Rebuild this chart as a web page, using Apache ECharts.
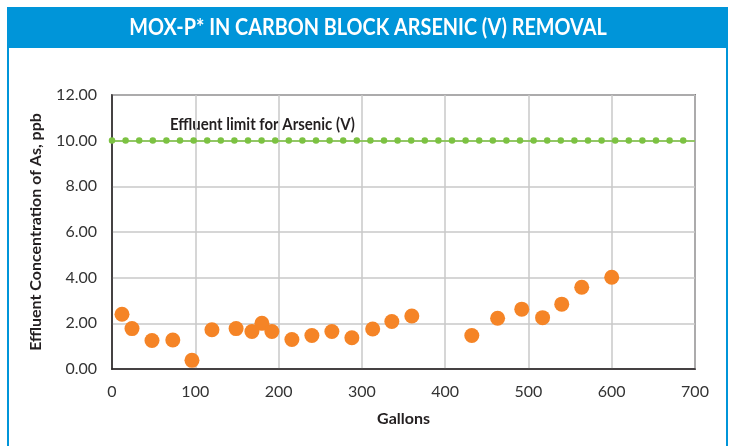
<!DOCTYPE html>
<html>
<head>
<meta charset="utf-8">
<script src="https://cdn.jsdelivr.net/npm/echarts@6/dist/echarts.min.js"></script>
<style>
  html, body { margin: 0; padding: 0; background: #fff; }
  #chart { width: 733px; height: 446px; }
</style>
</head>
<body>
<div id="chart"></div>
<script>
// gallons treated vs effluent arsenic (ppb)
var gallons = [12, 24, 48, 73, 96, 120, 149, 168, 180, 192, 216, 240, 264, 288, 313, 336, 360,
               432, 463, 492, 517, 540, 564, 600];
var arsenic = [2.40, 1.77, 1.25, 1.27, 0.38, 1.72, 1.77, 1.64, 2.00, 1.64, 1.29, 1.47, 1.64, 1.37, 1.75, 2.08, 2.32,
               1.47, 2.22, 2.62, 2.25, 2.84, 3.58, 4.02];
var yTicks = [0, 2, 4, 6, 8, 10, 12];
var xTicks = [0, 100, 200, 300, 400, 500, 600, 700];
var limit = 10;

(function () {
    var myChart = echarts.init(document.getElementById('chart'));
    var points = gallons.map(function (g, i) { return [g, arsenic[i]]; });
    var font = 'Lato, sans-serif';

    var option = {
        animation: false,
        backgroundColor: '#fff',
        graphic: [
            // panel border
            { type: 'rect', shape: { x: 8, y: 8, width: 719, height: 460 }, style: { fill: 'none', stroke: '#0095d9', lineWidth: 2 }, silent: true },
            // header bar
            { type: 'rect', shape: { x: 7, y: 8, width: 721, height: 40 }, style: { fill: '#0095d9' }, silent: true },
            {
                type: 'text', x: 368, y: 28, scaleX: 0.9,
                style: {
                    text: 'MOX-P* IN CARBON BLOCK ARSENIC (V) REMOVAL', fill: '#fff',
                    font: 'bold 22px ' + font, textAlign: 'center', textVerticalAlign: 'middle'
                }
            },
            {
                type: 'text', x: 170, y: 125, scaleX: 0.88,
                style: {
                    text: 'Effluent limit for Arsenic (V)', fill: '#231f20',
                    font: 'bold 17px ' + font, textAlign: 'left', textVerticalAlign: 'middle'
                }
            }
        ],
        grid: {
            left: 112,
            right: 38,
            top: 95,
            bottom: 77,
            show: true,
            borderColor: '#231f20',
            borderWidth: 1.5
        },
        xAxis: {
            type: 'value',
            min: xTicks[0],
            max: xTicks[xTicks.length - 1],
            interval: 100,
            name: 'Gallons',
            nameLocation: 'middle',
            nameGap: 42,
            nameTextStyle: { color: '#231f20', fontSize: 16, fontWeight: 'bold', fontFamily: font },
            axisLine: { show: true, lineStyle: { color: '#231f20', width: 1.5 } },
            axisTick: { show: false },
            axisLabel: { color: '#333', fontSize: 16, margin: 15, fontFamily: font },
            splitLine: { lineStyle: { color: '#c8c8c8', width: 1.5 } }
        },
        yAxis: {
            type: 'value',
            min: yTicks[0],
            max: yTicks[yTicks.length - 1],
            interval: 2,
            name: 'Effluent Concentration of As, ppb',
            nameLocation: 'middle',
            nameGap: 68,
            nameTextStyle: { color: '#231f20', fontSize: 16, fontWeight: 'bold', fontFamily: font },
            axisLine: { show: true, lineStyle: { color: '#231f20', width: 1.5 } },
            axisTick: { show: false },
            axisLabel: {
                color: '#333', fontSize: 16, margin: 15, fontFamily: font,
                formatter: function (v) { return v.toFixed(2); }
            },
            splitLine: { lineStyle: { color: '#c8c8c8', width: 1.5 } }
        },
        series: [
            {
                name: 'Arsenic',
                type: 'scatter',
                data: points,
                symbolSize: 15,
                itemStyle: { color: '#f58426', opacity: 1 },
                z: 5,
                markLine: {
                    silent: true,
                    symbol: 'none',
                    label: { show: false },
                    data: [
                        { yAxis: limit, lineStyle: { color: '#7cc242', width: 1.5, type: 'solid' } },
                        { yAxis: limit, lineStyle: { color: '#7cc242', width: 6.5, type: [0, 13.6], cap: 'round' } }
                    ]
                }
            }
        ]
    };
    myChart.setOption(option);
    window.addEventListener('resize', function () {
        myChart.resize();
    });
})();
</script>
</body>
</html>
